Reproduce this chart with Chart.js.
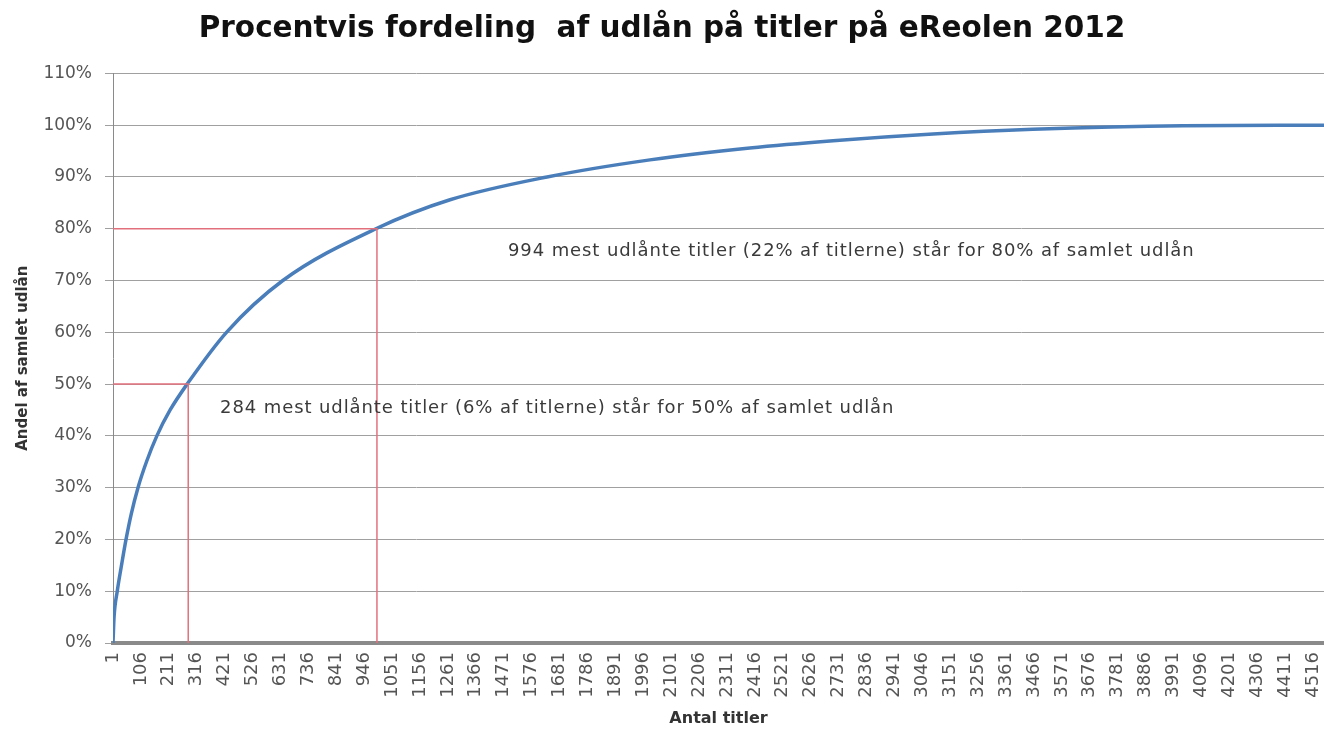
<!DOCTYPE html>
<html>
<head>
<meta charset="utf-8">
<script src="https://cdn.jsdelivr.net/npm/chart.js@4"></script>
<style>
  body { margin: 0; background: #fff; }
</style>
</head>
<body>
<canvas id="chart" width="1324" height="731"></canvas>
<script>
// cumulative share of loans
const titleCounts = [1, 5, 17, 33, 50, 70, 95, 127, 166, 216, 280, 428, 640, 990, 1269, 1634, 2021, 2397, 2710, 3086, 3462, 4026, 4557];
const loanShare = [0, 5, 10, 15, 20, 25, 30, 35, 40, 45, 50, 60, 70, 80, 85.6, 90, 93.3, 95.6, 97.0, 98.3, 99.2, 99.9, 100];

// the two marked thresholds
const markTitles = [284, 994];
const markShares = [50, 80];
const markTexts = [
    '284 mest udlånte titler (6% af titlerne) står for 50% af samlet udlån',
    '994 mest udlånte titler (22% af titlerne) står for 80% af samlet udlån'
];

const xTicks = [1, 106, 211, 316, 421, 526, 631, 736, 841, 946, 1051, 1156, 1261, 1366, 1471, 1576,
    1681, 1786, 1891, 1996, 2101, 2206, 2311, 2416, 2521, 2626, 2731, 2836, 2941, 3046, 3151, 3256,
    3361, 3466, 3571, 3676, 3781, 3886, 3991, 4096, 4201, 4306, 4411, 4516];

const curve = titleCounts.map((n, i) => ({ x: n, y: loanShare[i] }));
const redLines = markTitles.map((n, i) => ({
    data: [{ x: 1, y: markShares[i] }, { x: n, y: markShares[i] }, { x: n, y: 0 }],
    borderColor: '#e2707c',
    borderWidth: 1.5,
    pointRadius: 0,
    tension: 0
}));

// text anchors (left edge, vertical middle) in data units
const notePos = [{ x: 404, y: 45.4 }, { x: 1487, y: 75.7 }];

const notes = {
    id: 'notes',
    afterDatasetsDraw(chart) {
        const c = chart.ctx;
        const xs = chart.scales.x, ys = chart.scales.y;
        c.save();
        c.font = '18px "DejaVu Sans"';
        c.letterSpacing = '0.9px';
        c.fillStyle = '#3a3a3a';
        c.textBaseline = 'middle';
        c.textAlign = 'left';
        markTexts.forEach((t, i) => {
            c.fillText(t, xs.getPixelForValue(notePos[i].x), ys.getPixelForValue(notePos[i].y));
        });
        c.restore();
    }
};

new Chart(document.getElementById('chart').getContext('2d'), {
    type: 'line',
    data: {
        datasets: [
            ...redLines,
            {
                data: curve,
                borderColor: '#4a7ebb',
                borderWidth: 3.5,
                pointRadius: 0,
                cubicInterpolationMode: 'monotone'
            }
        ]
    },
    options: {
        responsive: false,
        animation: false,
        layout: { padding: 0 },
        plugins: {
            legend: { display: false },
            tooltip: { enabled: false },
            title: {
                display: true,
                text: 'Procentvis fordeling  af udlån på titler på eReolen 2012',
                color: '#111',
                font: { family: 'DejaVu Sans', size: 29.5, weight: 'bold' },
                padding: { top: 12, bottom: 26 }
            }
        },
        scales: {
            x: {
                type: 'linear',
                min: 1,
                max: 4557,
                afterBuildTicks: axis => { axis.ticks = xTicks.map(v => ({ value: v })); },
                afterFit: s => { s.height = 88; s.paddingLeft = 0; s.paddingRight = 0; },
                ticks: {
                    autoSkip: false,
                    minRotation: 90,
                    maxRotation: 90,
                    padding: 9,
                    color: '#555',
                    font: { family: 'DejaVu Sans', size: 18 },
                    callback: v => String(v)
                },
                grid: { drawOnChartArea: false, drawTicks: false },
                border: { color: '#8a8a8a', width: 4 },
                title: {
                    display: true,
                    text: 'Antal titler',
                    color: '#333',
                    font: { family: 'DejaVu Sans', size: 16, weight: 'bold' },
                    padding: { top: 0, bottom: 3 }
                }
            },
            y: {
                min: 0,
                max: 110,
                afterFit: s => { s.width = 113; },
                ticks: {
                    stepSize: 10,
                    padding: 13,
                    color: '#555',
                    font: { family: 'DejaVu Sans', size: 17 },
                    callback: v => v + '%'
                },
                grid: { color: '#a0a0a0', lineWidth: 1, tickLength: 8 },
                border: { color: '#8a8a8a', width: 1 },
                title: {
                    display: true,
                    text: 'Andel af samlet udlån',
                    color: '#333',
                    font: { family: 'DejaVu Sans', size: 15, weight: 'bold' },
                    padding: 14
                }
            }
        }
    },
    plugins: [notes]
});
</script>
</body>
</html>
